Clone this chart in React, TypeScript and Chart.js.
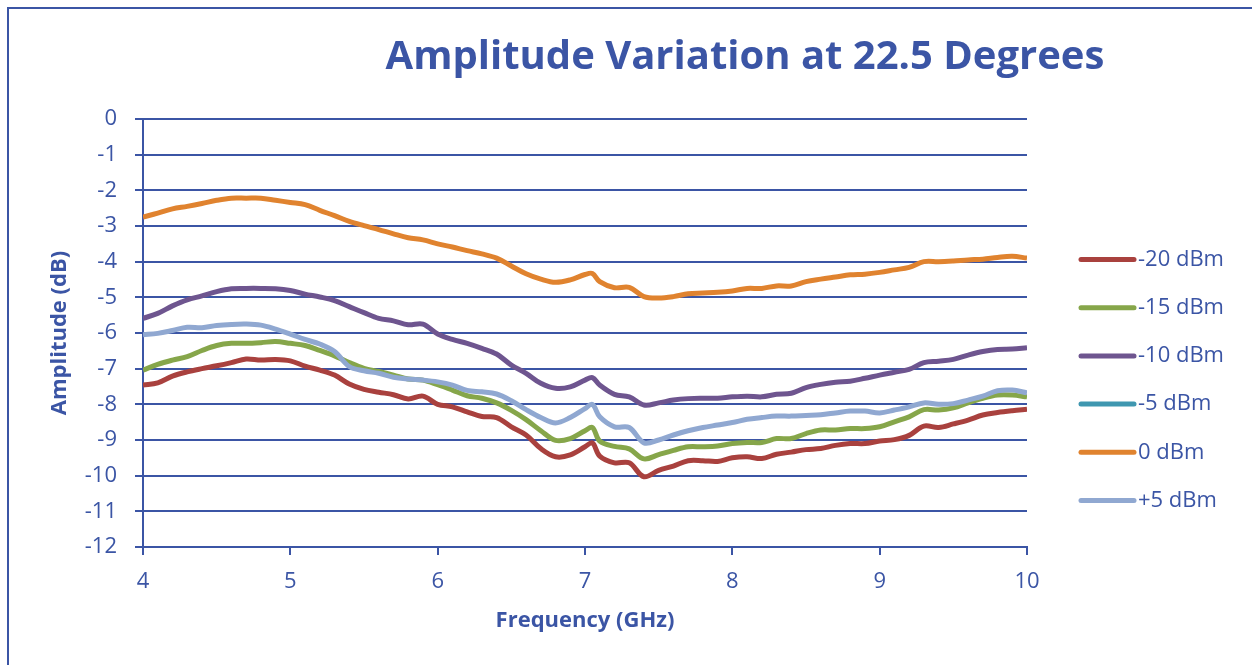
import React, { useEffect, useRef } from "react";
import { Chart, registerables } from "chart.js";

Chart.register(...registerables);

const TITLE = "Amplitude Variation at 22.5 Degrees";
const X_TITLE = "Frequency (GHz)";
const Y_TITLE = "Amplitude (dB)";
const SERIES_LABELS = ["-20 dBm", "-15 dBm", "-10 dBm", "-5 dBm", "0 dBm", "+5 dBm"];
const SERIES_COLORS = ["#A9413E", "#86A64A", "#6E558F", "#3F97B0", "#E0832F", "#90A8D1"];

const FREQ = [
  4.0, 4.1, 4.2, 4.3, 4.4, 4.5, 4.6, 4.7, 4.8, 4.9, 5.0, 5.1, 5.2, 5.3, 5.4, 5.5, 5.6, 5.7, 5.8, 5.9, 6.0,
  6.1, 6.2, 6.3, 6.4, 6.5, 6.6, 6.7, 6.8, 6.9, 7.0, 7.05, 7.1, 7.2, 7.3, 7.4, 7.5, 7.6, 7.7, 7.8, 7.9,
  8.0, 8.1, 8.2, 8.3, 8.4, 8.5, 8.6, 8.7, 8.8, 8.9, 9.0, 9.1, 9.2, 9.3, 9.4, 9.5, 9.6, 9.7, 9.8, 9.9, 10.0,
];

const M20_DBM = [
  -7.46, -7.40, -7.21, -7.09, -7.00, -6.92, -6.83, -6.73, -6.76, -6.74, -6.78, -6.93, -7.04, -7.18, -7.43, -7.58, -7.66, -7.73, -7.85, -7.77, -8.00,
  -8.07, -8.21, -8.34, -8.37, -8.63, -8.86, -9.24, -9.47, -9.42, -9.19, -9.08, -9.45, -9.64, -9.64, -10.03, -9.85, -9.73, -9.58, -9.58, -9.60,
  -9.50, -9.47, -9.52, -9.40, -9.34, -9.27, -9.24, -9.15, -9.10, -9.10, -9.03, -8.99, -8.87, -8.61, -8.65, -8.55, -8.44, -8.30, -8.23, -8.18, -8.14,
];

const M15_DBM = [
  -7.04, -6.88, -6.76, -6.66, -6.49, -6.35, -6.29, -6.29, -6.27, -6.24, -6.29, -6.35, -6.49, -6.64, -6.83, -6.99, -7.08, -7.18, -7.29, -7.32, -7.45,
  -7.60, -7.76, -7.83, -7.96, -8.17, -8.43, -8.74, -9.01, -8.96, -8.74, -8.65, -9.03, -9.18, -9.25, -9.53, -9.41, -9.29, -9.19, -9.19, -9.17,
  -9.10, -9.07, -9.07, -8.96, -8.96, -8.82, -8.72, -8.72, -8.68, -8.68, -8.63, -8.49, -8.35, -8.15, -8.16, -8.10, -7.96, -7.83, -7.74, -7.74, -7.79,
];

const M10_DBM = [
  -5.59, -5.45, -5.24, -5.07, -4.96, -4.84, -4.76, -4.75, -4.75, -4.76, -4.81, -4.91, -4.99, -5.09, -5.26, -5.43, -5.59, -5.66, -5.77, -5.75, -6.03,
  -6.18, -6.29, -6.43, -6.59, -6.90, -7.13, -7.41, -7.55, -7.51, -7.32, -7.25, -7.46, -7.72, -7.79, -8.02, -7.96, -7.88, -7.84, -7.83, -7.83,
  -7.79, -7.77, -7.79, -7.72, -7.69, -7.53, -7.44, -7.38, -7.35, -7.27, -7.18, -7.10, -7.02, -6.83, -6.79, -6.74, -6.62, -6.52, -6.46, -6.45, -6.41,
];

const M5_DBM: number[] = [];

const P0_DBM = [
  -2.75, -2.64, -2.52, -2.45, -2.37, -2.28, -2.22, -2.22, -2.22, -2.28, -2.34, -2.40, -2.56, -2.71, -2.87, -2.99, -3.10, -3.22, -3.33, -3.39, -3.50,
  -3.59, -3.69, -3.78, -3.90, -4.12, -4.34, -4.49, -4.58, -4.51, -4.36, -4.33, -4.56, -4.73, -4.72, -4.98, -5.02, -4.98, -4.90, -4.88, -4.86,
  -4.82, -4.75, -4.75, -4.68, -4.68, -4.56, -4.49, -4.43, -4.37, -4.35, -4.30, -4.23, -4.16, -4.00, -4.00, -3.98, -3.95, -3.93, -3.88, -3.85, -3.90,
];

const P5_DBM = [
  -6.05, -6.01, -5.93, -5.84, -5.85, -5.79, -5.76, -5.75, -5.78, -5.89, -6.03, -6.18, -6.31, -6.52, -6.94, -7.06, -7.13, -7.24, -7.29, -7.32, -7.37,
  -7.46, -7.61, -7.65, -7.71, -7.90, -8.15, -8.37, -8.52, -8.37, -8.12, -8.00, -8.35, -8.63, -8.65, -9.08, -9.00, -8.86, -8.74, -8.65, -8.58,
  -8.51, -8.42, -8.37, -8.33, -8.33, -8.31, -8.29, -8.24, -8.19, -8.19, -8.24, -8.16, -8.07, -7.96, -8.00, -7.98, -7.88, -7.77, -7.62, -7.60, -7.68,
];

const SERIES_VALUES = [M20_DBM, M15_DBM, M10_DBM, M5_DBM, P0_DBM, P5_DBM];

const BLUE = "#3B55A5";
const FONT = "'Open Sans', sans-serif";

export default function App() {
  const ref = useRef<HTMLCanvasElement | null>(null);

  useEffect(() => {
    if (!ref.current) return;

    const titlePlugin = {
      id: "customTitle",
      afterDraw(chart: any) {
        const ctx = chart.ctx;
        ctx.save();
        ctx.font = `bold 40px ${FONT}`;
        ctx.fillStyle = BLUE;
        ctx.textAlign = "center";
        ctx.textBaseline = "alphabetic";
        ctx.fillText(TITLE, 745, 69);
        ctx.restore();
      },
    };

    const legendPlugin = {
      id: "customLegend",
      afterDraw(chart: any) {
        const ctx = chart.ctx;
        ctx.save();
        chart.data.datasets.forEach((ds: any, i: number) => {
          const y = 259.5 + i * 48.2;
          ctx.strokeStyle = ds.borderColor;
          ctx.lineWidth = 5;
          ctx.lineCap = "round";
          ctx.beginPath();
          ctx.moveTo(1081, y);
          ctx.lineTo(1134, y);
          ctx.stroke();
          ctx.font = `22px ${FONT}`;
          ctx.fillStyle = BLUE;
          ctx.textAlign = "left";
          ctx.textBaseline = "middle";
          ctx.fillText(ds.label, 1138, y);
        });
        ctx.restore();
      },
    };

    const datasets = SERIES_LABELS.map((label, i) => ({
      label,
      data: SERIES_VALUES[i].map((v, j) => ({ x: FREQ[j], y: v })),
      borderColor: SERIES_COLORS[i],
      backgroundColor: SERIES_COLORS[i],
      borderWidth: 5,
      pointRadius: 0,
      tension: 0.35,
      fill: false,
      order: SERIES_LABELS.length - i,
    }));

    const chart = new Chart(ref.current, {
      type: "line",
      data: { datasets },
      options: {
        responsive: false,
        animation: false,
        layout: { padding: { left: 40, right: 225, top: 119, bottom: 20 } },
        plugins: {
          legend: { display: false },
          tooltip: { enabled: false },
          title: { display: false },
        },
        scales: {
          x: {
            type: "linear",
            min: 4,
            max: 10,
            ticks: {
              stepSize: 1,
              color: BLUE,
              font: { family: FONT, size: 22 },
              padding: 14,
              maxRotation: 0,
            },
            grid: {
              display: true,
              drawOnChartArea: false,
              drawTicks: true,
              tickLength: 8,
              color: BLUE,
              lineWidth: 2,
            },
            border: { display: true, color: BLUE, width: 2 },
            title: {
              display: true,
              text: X_TITLE,
              color: BLUE,
              font: { family: FONT, size: 22, weight: "bold" },
              padding: { top: 0, bottom: 11 },
            },
            afterFit: (s: any) => {
              s.height = 98;
            },
          },
          y: {
            min: -12,
            max: 0,
            ticks: {
              stepSize: 1,
              color: BLUE,
              font: { family: FONT, size: 22 },
              padding: 18,
            },
            grid: {
              color: BLUE,
              lineWidth: 2,
              tickLength: 8,
            },
            border: { display: true, color: BLUE, width: 2 },
            title: {
              display: true,
              text: Y_TITLE,
              color: BLUE,
              font: { family: FONT, size: 22, weight: "bold" },
              padding: { top: 7, bottom: 0 },
            },
            afterFit: (s: any) => {
              s.width = 103;
            },
          },
        },
      } as any,
      plugins: [titlePlugin, legendPlugin],
    });

    return () => chart.destroy();
  }, []);

  return (
    <div
      style={{
        position: "absolute",
        left: 0,
        top: 0,
        width: 1252,
        height: 665,
        overflow: "hidden",
        background: "#fff",
      }}
    >
      <div
        style={{
          position: "absolute",
          left: 7,
          top: 7,
          width: 1400,
          height: 1000,
          border: `2px solid ${BLUE}`,
          boxSizing: "border-box",
        }}
      />
      <canvas
        ref={ref}
        width={1252}
        height={665}
        style={{ position: "absolute", left: 0, top: 0, width: 1252, height: 665, display: "block" }}
      />
    </div>
  );
}
